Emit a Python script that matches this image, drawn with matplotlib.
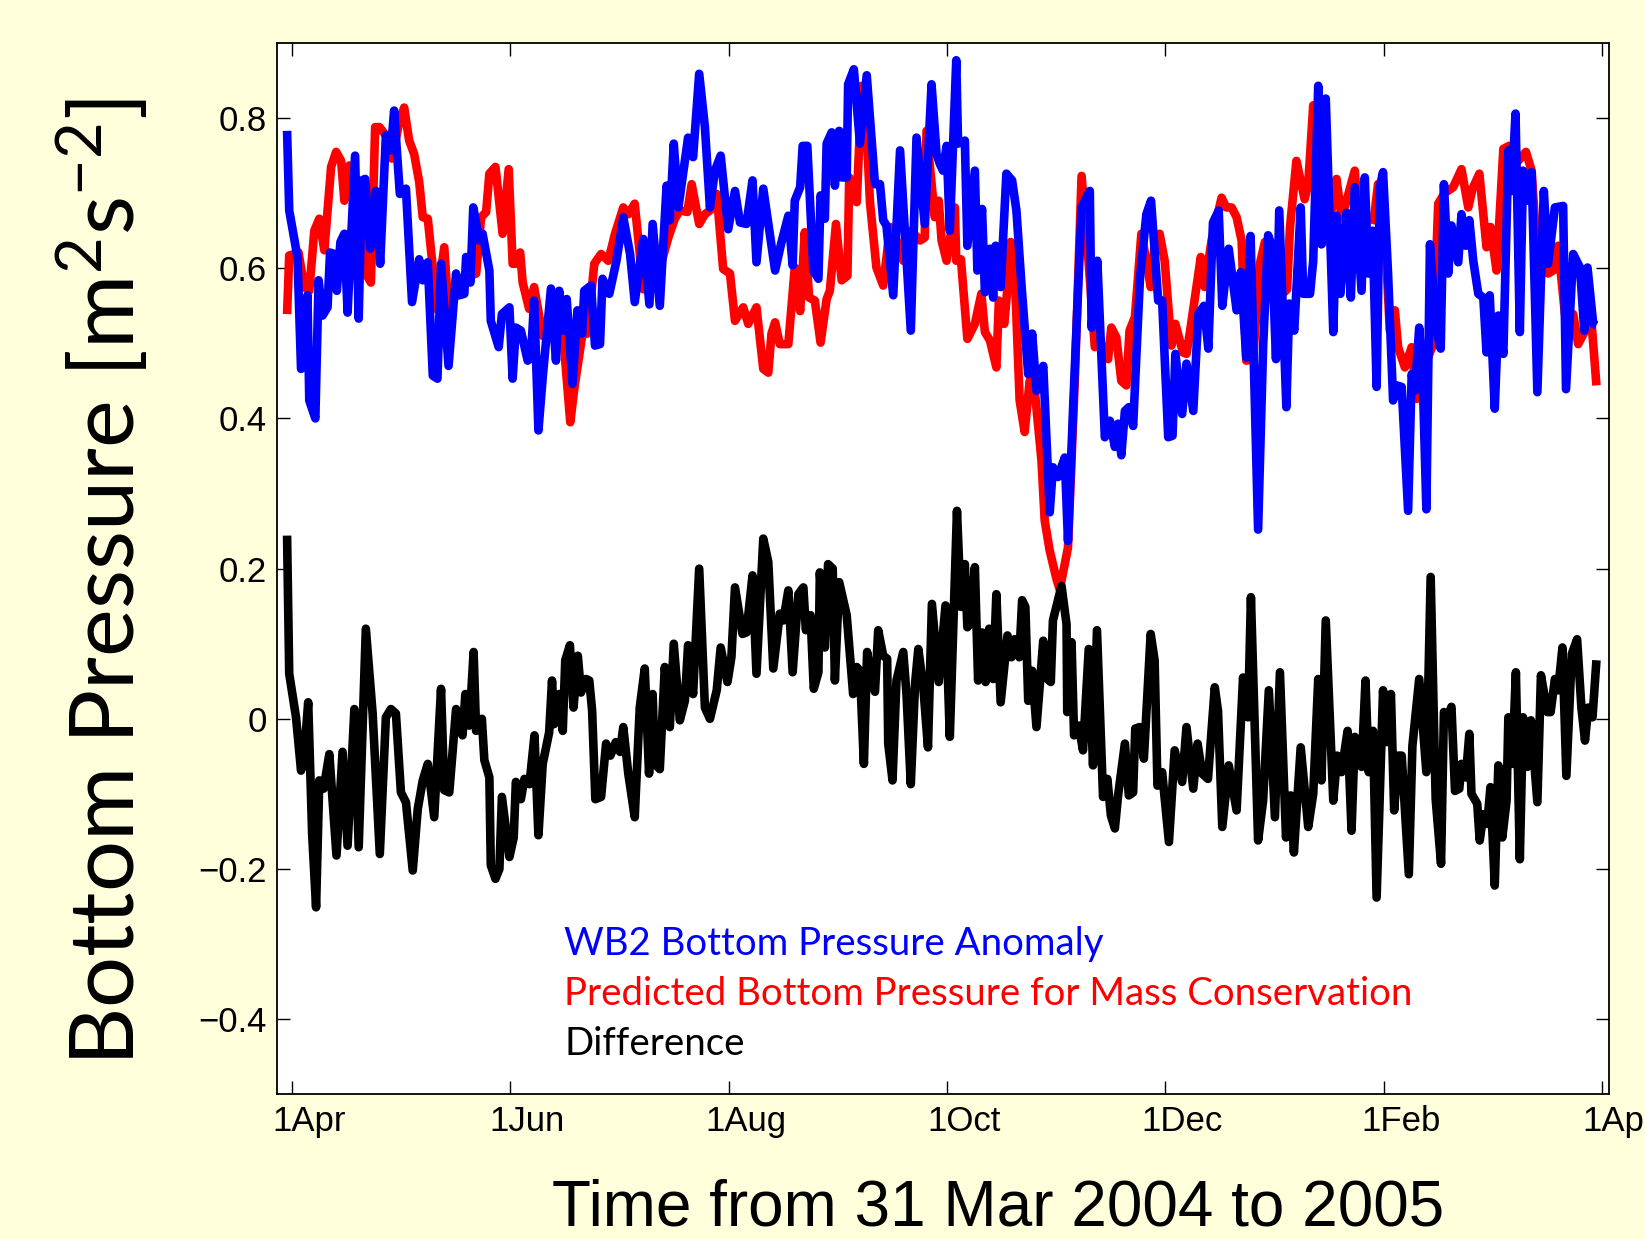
import matplotlib
matplotlib.use('Agg')
import matplotlib.pyplot as plt
import matplotlib.transforms as mtransforms

# days since 31 Mar 2004 and values
blue_day = [-0.3, 0.3, 2.6, 3.6, 5.4, 5.9, 7.6, 8.5, 9.6, 11.0, 11.7, 12.9, 13.6, 14.6, 15.7, 16.6,
            18.7, 19.7, 20.6, 21.5, 22.9, 24.5, 25.7, 27.3, 28.7, 29.6, 31.2, 32.9, 34.6, 36.6, 37.6,
            39.0, 40.4, 41.7, 42.7, 44.8, 46.9, 47.8, 49.2, 49.7, 50.9, 51.7, 53.4, 54.3, 56.2, 56.6,
            58.8, 59.7, 61.8, 62.7, 63.6, 65.0, 66.9, 67.8, 68.7, 69.9, 71.1, 73.4, 74.8, 75.7, 76.8,
            77.8, 79.4, 80.8, 82.1, 82.7, 84.6, 85.7, 87.1, 87.8, 89.7, 91.7, 93.6, 95.5, 96.8, 99.2,
            100.9, 101.8, 103.8, 105.7, 106.6, 107.7, 109.0, 111.7, 113.1, 114.8, 116.4, 117.8, 119.2,
            120.8, 122.9, 124.8, 126.2, 128.0, 129.7, 130.8, 132.7, 136.0, 137.8, 139.7, 140.9, 141.5,
            143.0, 143.7, 145.0, 146.7, 148.1, 148.7, 149.9, 150.4, 151.8, 152.7, 153.9, 154.6, 156.0,
            156.4, 158.0, 159.7, 161.6, 163.9, 165.3, 166.2, 167.1, 169.0, 170.9, 173.9, 175.5, 177.8,
            179.7, 181.1, 182.0, 182.9, 183.9, 184.8, 186.6, 187.1, 189.0, 189.7, 191.8, 192.5, 193.8,
            194.6, 196.0, 196.9, 197.6, 199.0, 200.6, 202.2, 203.4, 204.8, 206.7, 207.8, 209.0, 210.9,
            212.7, 213.6, 215.0, 216.9, 217.8, 219.2, 221.6, 223.9, 224.4, 226.0, 228.1, 229.5, 230.9,
            231.8, 232.7, 233.7, 234.8, 236.0, 237.9, 239.7, 241.0, 243.0, 244.1, 245.8, 247.0, 247.8,
            249.7, 250.9, 252.8, 254.2, 255.8, 257.0, 258.3, 259.9, 260.9, 262.7, 264.9, 266.1, 267.6,
            268.8, 270.9, 272.3, 273.7, 274.7, 275.9, 276.8, 278.8, 279.6, 281.0, 282.8, 283.5, 285.4,
            286.3, 287.7, 288.6, 289.8, 290.5, 291.9, 292.8, 293.9, 295.6, 296.8, 297.9, 299.8, 300.7,
            301.7, 302.9, 304.0, 304.9, 305.8, 307.2, 308.6, 309.6, 311.0, 312.8, 313.8, 314.7, 315.9,
            317.0, 317.9, 318.9, 320.7, 321.9, 322.8, 324.0, 324.9, 326.8, 327.7, 328.9, 329.9, 331.0,
            332.4, 333.8, 334.7, 335.6, 337.0, 338.0, 339.4, 340.8, 341.7, 342.8, 344.0, 344.9, 346.1,
            347.3, 348.9, 350.7, 351.9, 353.8, 356.1, 356.9, 358.9, 360.8, 362.0, 362.9, 364.5, 365.4]
blue_val = [0.783, 0.677, 0.615, 0.466, 0.564, 0.424, 0.400, 0.584, 0.537, 0.548, 0.621, 0.619, 0.570,
            0.635, 0.646, 0.541, 0.750, 0.533, 0.717, 0.719, 0.626, 0.703, 0.606, 0.777, 0.757, 0.810,
            0.699, 0.706, 0.555, 0.612, 0.584, 0.608, 0.457, 0.453, 0.606, 0.470, 0.593, 0.564, 0.566,
            0.615, 0.581, 0.681, 0.637, 0.646, 0.597, 0.530, 0.495, 0.539, 0.548, 0.453, 0.521, 0.517,
            0.477, 0.481, 0.557, 0.384, 0.455, 0.573, 0.477, 0.570, 0.517, 0.559, 0.446, 0.544, 0.513,
            0.570, 0.577, 0.497, 0.499, 0.586, 0.566, 0.610, 0.668, 0.619, 0.555, 0.639, 0.552, 0.659,
            0.550, 0.710, 0.664, 0.766, 0.681, 0.774, 0.748, 0.859, 0.788, 0.681, 0.730, 0.750, 0.652,
            0.703, 0.661, 0.659, 0.717, 0.608, 0.706, 0.597, 0.635, 0.670, 0.604, 0.690, 0.708, 0.763,
            0.763, 0.597, 0.586, 0.697, 0.666, 0.766, 0.781, 0.710, 0.783, 0.721, 0.721, 0.845, 0.865,
            0.766, 0.857, 0.712, 0.712, 0.664, 0.657, 0.564, 0.757, 0.517, 0.774, 0.659, 0.845, 0.752,
            0.739, 0.730, 0.763, 0.650, 0.877, 0.766, 0.770, 0.630, 0.730, 0.597, 0.679, 0.568, 0.626,
            0.561, 0.630, 0.575, 0.726, 0.717, 0.677, 0.579, 0.459, 0.513, 0.437, 0.470, 0.275, 0.335,
            0.322, 0.348, 0.237, 0.410, 0.681, 0.703, 0.521, 0.610, 0.375, 0.397, 0.362, 0.393, 0.351,
            0.410, 0.415, 0.390, 0.586, 0.672, 0.690, 0.557, 0.557, 0.375, 0.377, 0.486, 0.406, 0.473,
            0.410, 0.539, 0.550, 0.493, 0.661, 0.677, 0.550, 0.626, 0.544, 0.595, 0.481, 0.643, 0.252,
            0.495, 0.644, 0.630, 0.479, 0.677, 0.415, 0.553, 0.517, 0.681, 0.566, 0.566, 0.610, 0.843,
            0.632, 0.826, 0.721, 0.515, 0.670, 0.566, 0.674, 0.561, 0.708, 0.570, 0.721, 0.593, 0.650,
            0.442, 0.708, 0.728, 0.593, 0.424, 0.444, 0.442, 0.277, 0.459, 0.437, 0.521, 0.433, 0.279,
            0.632, 0.517, 0.493, 0.712, 0.593, 0.657, 0.608, 0.672, 0.630, 0.664, 0.610, 0.566, 0.561,
            0.488, 0.564, 0.413, 0.537, 0.486, 0.757, 0.703, 0.806, 0.515, 0.730, 0.690, 0.728, 0.435,
            0.703, 0.606, 0.681, 0.683, 0.439, 0.619, 0.601, 0.517, 0.601, 0.526, 0.524]

red_day = [-0.3, 0.3, 1.7, 2.9, 4.5, 5.9, 7.3, 8.7, 10.1, 12.0, 13.4, 14.8, 15.7, 17.1, 18.5, 21.7,
           23.1, 24.3, 25.5, 27.3, 29.0, 31.0, 32.4, 33.8, 35.2, 36.6, 37.6, 39.0, 40.2, 41.3, 43.6,
           44.7, 47.0, 48.5, 52.5, 53.9, 55.3, 56.2, 57.9, 59.9, 61.6, 62.7, 63.6, 64.8, 65.5, 67.3,
           68.7, 71.1, 74.3, 76.5, 78.8, 79.9, 82.2, 83.6, 85.5, 87.4, 89.4, 91.3, 93.6, 95.0, 96.8,
           99.2, 101.5, 103.8, 106.2, 108.0, 109.4, 111.5, 112.7, 114.8, 116.4, 117.8, 119.7, 121.5,
           123.4, 124.8, 127.1, 128.5, 130.8, 132.7, 134.1, 135.0, 136.0, 137.3, 139.7, 141.5, 143.0,
           144.3, 145.5, 147.1, 148.7, 150.4, 151.3, 153.0, 154.6, 156.2, 156.7, 158.8, 160.2, 161.6,
           162.5, 164.3, 166.2, 168.1, 170.9, 171.8, 174.0, 176.5, 177.8, 178.3, 180.6, 181.7, 182.5,
           183.9, 186.2, 186.6, 187.9, 189.7, 191.8, 193.6, 194.6, 196.0, 197.8, 198.5, 200.0, 200.6,
           201.8, 202.9, 204.3, 205.7, 207.1, 208.5, 210.4, 211.3, 212.7, 214.6, 215.5, 217.8, 219.7,
           221.6, 223.4, 225.3, 227.1, 229.0, 229.9, 231.3, 232.7, 234.1, 235.0, 236.5, 238.3, 239.7,
           240.9, 242.0, 243.4, 244.8, 246.7, 247.8, 249.9, 250.9, 251.8, 254.9, 256.0, 257.9, 260.7,
           262.0, 263.5, 264.9, 266.3, 267.6, 269.5, 271.4, 272.8, 276.0, 279.0, 279.8, 281.6, 283.9,
           284.9, 286.3, 288.6, 290.5, 292.8, 294.2, 295.6, 297.9, 298.9, 300.7, 303.2, 304.4, 305.3,
           306.8, 307.7, 309.1, 310.0, 311.9, 313.8, 315.2, 317.5, 319.8, 321.2, 323.0, 325.4, 327.7,
           329.6, 330.8, 332.7, 334.7, 335.8, 337.5, 339.4, 341.0, 343.0, 345.7, 347.3, 348.7, 350.5,
           351.9, 353.3, 354.7, 356.6, 358.9, 360.3, 361.7, 364.0, 365.4]
red_val = [0.539, 0.617, 0.619, 0.621, 0.575, 0.570, 0.650, 0.666, 0.624, 0.735, 0.755, 0.743, 0.690,
           0.737, 0.720, 0.593, 0.581, 0.788, 0.788, 0.777, 0.746, 0.794, 0.814, 0.770, 0.752, 0.715,
           0.668, 0.666, 0.610, 0.546, 0.628, 0.548, 0.570, 0.585, 0.593, 0.668, 0.675, 0.726, 0.735,
           0.646, 0.732, 0.606, 0.606, 0.621, 0.581, 0.546, 0.575, 0.510, 0.530, 0.528, 0.395, 0.439,
           0.513, 0.513, 0.606, 0.619, 0.610, 0.646, 0.681, 0.672, 0.686, 0.572, 0.585, 0.600, 0.641,
           0.666, 0.677, 0.675, 0.712, 0.659, 0.672, 0.677, 0.699, 0.599, 0.593, 0.530, 0.548, 0.526,
           0.548, 0.466, 0.461, 0.513, 0.528, 0.499, 0.499, 0.601, 0.543, 0.648, 0.561, 0.557, 0.501,
           0.559, 0.570, 0.659, 0.584, 0.590, 0.721, 0.688, 0.843, 0.779, 0.688, 0.601, 0.577, 0.655,
           0.628, 0.610, 0.650, 0.637, 0.641, 0.783, 0.668, 0.690, 0.637, 0.610, 0.681, 0.610, 0.612,
           0.506, 0.526, 0.566, 0.515, 0.504, 0.468, 0.557, 0.526, 0.557, 0.635, 0.597, 0.424, 0.382,
           0.450, 0.439, 0.344, 0.264, 0.224, 0.186, 0.172, 0.228, 0.450, 0.723, 0.619, 0.495, 0.499,
           0.479, 0.521, 0.508, 0.450, 0.444, 0.517, 0.535, 0.646, 0.610, 0.575, 0.628, 0.646, 0.610,
           0.497, 0.526, 0.488, 0.486, 0.513, 0.615, 0.575, 0.637, 0.694, 0.681, 0.681, 0.668, 0.637,
           0.477, 0.479, 0.606, 0.635, 0.557, 0.572, 0.654, 0.743, 0.692, 0.712, 0.817, 0.632, 0.650,
           0.719, 0.668, 0.690, 0.730, 0.670, 0.670, 0.664, 0.712, 0.712, 0.601, 0.517, 0.544, 0.495,
           0.468, 0.495, 0.426, 0.470, 0.499, 0.686, 0.700, 0.708, 0.732, 0.681, 0.706, 0.726, 0.628,
           0.655, 0.597, 0.759, 0.763, 0.740, 0.755, 0.730, 0.628, 0.599, 0.593, 0.597, 0.630, 0.539,
           0.539, 0.499, 0.512, 0.530, 0.444]

diff_day = [-0.3, 0.3, 2.2, 3.6, 4.5, 5.6, 6.7, 7.8, 8.7, 9.9, 11.5, 13.5, 15.2, 16.6, 18.5, 19.7,
            21.7, 23.6, 25.6, 27.3, 28.7, 30.1, 31.5, 32.9, 34.8, 36.2, 37.6, 39.0, 40.8, 42.7, 43.6,
            45.0, 46.9, 48.7, 49.5, 50.6, 51.8, 52.5, 54.1, 54.8, 56.2, 56.6, 57.9, 59.0, 59.7, 61.8,
            63.0, 63.6, 65.0, 66.0, 67.4, 68.8, 69.9, 71.1, 72.9, 73.7, 74.3, 75.7, 76.7, 77.4, 78.7,
            79.7, 80.9, 81.8, 83.2, 84.1, 84.9, 85.8, 87.4, 88.8, 90.0, 91.5, 92.7, 93.6, 95.0, 96.8,
            98.2, 99.6, 100.8, 101.8, 102.4, 103.8, 105.2, 106.6, 107.7, 109.4, 110.8, 111.7, 113.1,
            114.8, 116.4, 117.8, 119.7, 120.8, 122.7, 123.8, 124.8, 126.9, 128.0, 129.7, 130.8, 132.7,
            134.1, 135.5, 137.3, 138.3, 139.7, 140.9, 142.5, 143.9, 144.6, 145.9, 146.8, 148.1, 148.5,
            149.9, 150.8, 152.1, 152.7, 153.9, 156.0, 157.8, 158.8, 159.7, 160.8, 161.7, 162.7, 163.9,
            164.8, 166.2, 167.3, 167.6, 168.8, 169.9, 171.8, 172.7, 173.9, 175.1, 176.0, 177.4, 178.7,
            179.8, 181.7, 183.6, 184.8, 186.8, 187.9, 189.0, 189.7, 190.4, 191.8, 192.7, 193.8, 194.8,
            195.8, 196.9, 197.8, 199.0, 200.9, 202.0, 202.9, 204.2, 205.0, 205.9, 206.7, 207.8, 209.0,
            210.9, 212.1, 213.0, 213.6, 216.0, 217.4, 217.6, 218.8, 219.5, 220.8, 222.0, 223.6, 224.8,
            225.9, 227.6, 228.8, 229.8, 230.9, 231.8, 233.7, 234.8, 236.0, 236.6, 237.8, 239.0, 240.9,
            242.0, 242.8, 244.1, 246.0, 247.6, 249.7, 250.9, 252.8, 254.0, 255.3, 256.9, 258.8, 259.7,
            260.9, 262.7, 264.9, 266.7, 268.1, 268.9, 270.9, 272.3, 273.9, 275.6, 277.0, 278.7, 280.0,
            280.9, 282.8, 284.9, 286.3, 287.7, 288.6, 289.8, 291.9, 293.0, 294.2, 295.9, 297.0, 297.9,
            299.8, 300.9, 301.8, 303.0, 304.0, 305.8, 306.8, 308.0, 308.9, 310.0, 311.0, 313.0, 314.0,
            315.9, 317.9, 319.1, 320.5, 322.0, 322.8, 323.7, 324.9, 325.9, 327.1, 327.7, 328.9, 329.9,
            330.5, 332.1, 332.8, 333.8, 334.9, 335.8, 337.0, 338.0, 339.1, 340.3, 340.8, 341.9, 342.9,
            344.0, 344.9, 346.1, 347.1, 348.9, 349.9, 351.7, 352.6, 353.8, 354.7, 355.9, 357.0, 358.5,
            360.0, 361.2, 362.2, 363.1, 364.3, 365.4]
diff_val = [0.244, 0.060, 0.002, -0.069, -0.047, 0.022, -0.153, -0.251, -0.082, -0.093, -0.047, -0.182,
            -0.044, -0.169, 0.013, -0.171, 0.120, 0.007, -0.180, 0.002, 0.013, 0.007, -0.098, -0.111,
            -0.202, -0.120, -0.082, -0.060, -0.131, 0.040, -0.095, -0.098, 0.013, -0.022, 0.033, -0.009,
            0.089, -0.016, 0.000, -0.055, -0.078, -0.195, -0.213, -0.200, -0.104, -0.184, -0.158, -0.084,
            -0.107, -0.080, -0.087, -0.022, -0.155, -0.060, -0.018, 0.051, -0.007, 0.033, -0.016, 0.078,
            0.098, 0.015, 0.084, 0.035, 0.053, 0.051, 0.011, -0.107, -0.104, -0.033, -0.049, -0.031,
            -0.044, -0.011, -0.073, -0.131, 0.015, 0.067, -0.073, 0.033, -0.060, -0.067, 0.069, -0.011,
            0.100, -0.002, 0.024, 0.098, 0.033, 0.200, 0.015, 0.000, 0.038, 0.095, 0.049, 0.082, 0.175,
            0.113, 0.115, 0.191, 0.060, 0.240, 0.209, 0.067, 0.140, 0.131, 0.171, 0.062, 0.166, 0.175,
            0.118, 0.138, 0.040, 0.062, 0.195, 0.095, 0.206, 0.200, 0.051, 0.182, 0.138, 0.033, 0.069,
            0.064, -0.060, 0.089, 0.060, 0.036, 0.118, 0.084, 0.080, -0.033, -0.082, 0.051, 0.089, 0.033,
            -0.087, 0.047, 0.093, 0.042, -0.038, 0.153, 0.049, 0.151, -0.024, 0.277, 0.149, 0.206, 0.122,
            0.126, 0.202, 0.051, 0.115, 0.049, 0.120, 0.053, 0.166, 0.022, 0.111, 0.082, 0.106, 0.082,
            0.158, 0.149, 0.024, 0.064, -0.011, 0.104, 0.053, 0.049, 0.131, 0.177, 0.126, 0.009, 0.102,
            -0.022, -0.009, -0.042, 0.093, -0.062, 0.118, -0.104, -0.080, -0.129, -0.146, -0.102, -0.033,
            -0.102, -0.098, -0.013, -0.011, -0.053, 0.113, 0.078, -0.089, -0.071, -0.164, -0.042, -0.084,
            -0.011, -0.093, -0.033, -0.073, -0.080, 0.042, 0.011, -0.144, -0.062, -0.122, 0.055, 0.002,
            0.162, -0.162, -0.109, 0.038, -0.131, 0.062, -0.158, -0.102, -0.178, -0.038, -0.144, -0.100,
            0.053, -0.082, 0.131, -0.109, -0.049, -0.071, -0.016, -0.149, -0.024, -0.064, 0.051, -0.071,
            -0.016, -0.238, 0.038, -0.031, 0.033, -0.122, -0.049, -0.049, -0.207, -0.036, 0.053, -0.071,
            0.189, -0.107, -0.193, 0.009, 0.000, 0.016, -0.096, -0.093, -0.060, -0.078, -0.020, -0.100,
            -0.113, -0.162, -0.127, -0.140, -0.091, -0.222, -0.062, -0.158, -0.109, 0.002, -0.060, 0.062,
            -0.187, 0.002, -0.064, -0.002, -0.111, 0.058, 0.009, 0.009, 0.053, 0.038, 0.095, -0.076,
            0.086, 0.106, 0.015, -0.029, 0.015, 0.002, 0.078]

tick_days = [1, 62, 123, 184, 245, 306, 367]
tick_names = ['1Apr', '1Jun', '1Aug', '1Oct', '1Dec', '1Feb', '1Apr']
ytick_vals = [-0.4, -0.2, 0, 0.2, 0.4, 0.6, 0.8]
ytick_names = ['\u22120.4', '\u22120.2', '0', '0.2', '0.4', '0.6', '0.8']
legend_names = ['WB2 Bottom Pressure Anomaly',
                'Predicted Bottom Pressure for Mass Conservation',
                'Difference']

plt.rcParams['font.family'] = ['Liberation Sans', 'DejaVu Sans']
plt.rcParams['mathtext.fontset'] = 'custom'
plt.rcParams['mathtext.rm'] = 'Lato'
plt.rcParams['mathtext.it'] = 'Lato'

bg = '#ffffdc'
fig = plt.figure(figsize=(16.45, 12.39), dpi=100, facecolor=bg)
ax = fig.add_axes([0.1682, 0.1168, 0.8099, 0.8485])

lw = 6.2
ax.plot(red_day, red_val, color='#ff0000', lw=lw, solid_joinstyle='round', solid_capstyle='butt')
ax.plot(blue_day, blue_val, color='#0000ff', lw=lw, solid_joinstyle='round', solid_capstyle='butt')
ax.plot(diff_day, diff_val, color='black', lw=lw, solid_joinstyle='round', solid_capstyle='butt')

ax.set_xlim(-3.2, 368.9)
ax.set_ylim(-0.5, 0.9)
ax.set_xticks(tick_days)
ax.set_xticklabels(tick_names)
ax.set_yticks(ytick_vals)
ax.set_yticklabels(ytick_names)
ax.tick_params(direction='in', length=9.4, width=1.0, top=True, right=True, labelsize=25)
ax.tick_params(axis='x', pad=8)
ax.tick_params(axis='y', pad=7)
for s in ax.spines.values():
    s.set_linewidth(1.3)

# labels in the original sit a bit to the right of their ticks
shift = mtransforms.ScaledTranslation(17 / 100, 0, fig.dpi_scale_trans)
for lab in ax.get_xticklabels():
    lab.set_transform(lab.get_transform() + shift)

# legend as coloured text
cols = ['#0000ff', '#ff0000', 'black']
ys = [0.1427, 0.0951, 0.0476]
for name, c, y in zip(legend_names, cols, ys):
    ax.text(0.2157, y, name, color=c, transform=ax.transAxes, fontsize=27.6,
            family=['Lato', 'DejaVu Sans'], ha='left', va='center')

fig.text(0.062, 0.530, 'Bottom Pressure [m$^2$s$^{-2}$]', rotation=90, fontsize=65,
         family=['Lato', 'DejaVu Sans'], ha='center', va='center')
fig.text(0.607, 0.025, 'Time from 31 Mar 2004 to 2005', fontsize=46, ha='center', va='center')

fig.savefig('out.png', dpi=100, facecolor=bg)
